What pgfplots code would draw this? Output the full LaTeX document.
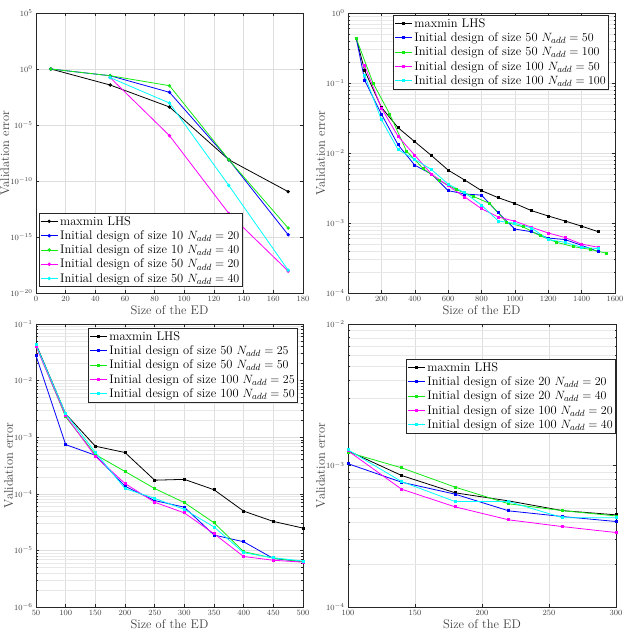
\documentclass[border=0pt]{standalone}
\usepackage{pgfplots}
\pgfplotsset{compat=1.18}
\definecolor{axgray}{RGB}{38,38,38}
\definecolor{gridgray}{RGB}{222,222,222}
\definecolor{mgreen}{RGB}{20,235,20}
\definecolor{mblue}{RGB}{0,0,255}
\definecolor{mmag}{RGB}{255,0,255}
\definecolor{mcyan}{RGB}{0,255,255}
\pgfplotsset{
 mat/.style={
  scale only axis, width=267pt, height=280pt,
  anchor=south west,
  axis line style={axgray, line width=0.5pt},
  tick style={axgray, line width=0.5pt},
  major tick length=3pt, minor tick length=1.5pt,
  tick label style={font=\fontsize{8}{9}\selectfont, text=black!75},
  xticklabel style={/pgf/number format/1000 sep={}},
  label style={font=\fontsize{12.5}{14}\selectfont, text=black!75},
  xmajorgrids, ymajorgrids,
  major grid style={gridgray, line width=0.4pt},
  minor grid style={gridgray!70, line width=0.3pt},
  legend style={font=\fontsize{12.5}{14}\selectfont, draw=axgray, line width=0.6pt, inner sep=1pt, row sep=0pt},
  legend cell align=left,
  every axis plot/.append style={line width=0.8pt, mark size=1.3pt},
  xlabel={Size of the ED}, ylabel={Validation error},
  xlabel style={yshift=3pt}, ylabel style={yshift=-6pt}
 }
}
\begin{document}
\begin{tikzpicture}
\path[use as bounding box] (0pt,0pt) rectangle (624pt,638pt);
% Panel 1
\begin{axis}[ymode=log, mat, at={(36pt,345pt)},
  xmin=0, xmax=180, xtick={0,20,...,180},
  ymin=1e-20, ymax=1e5, ytick={1e-20,1e-15,1e-10,1e-5,1,1e5}, yminorticks=false,
  legend style={at={(rel axis cs:0,0)}, anchor=south west, xshift=3pt, yshift=6pt}]
\addplot[black, mark=*] coordinates {(10,1) (50,0.0372) (90,4.07e-4) (130,7.94e-9) (170,1.12e-11)};
\addplot[mblue, mark=*] coordinates {(10,1) (50,0.251) (90,8.3e-3) (130,7.94e-9) (170,1.58e-15)};
\addplot[mgreen, mark=*] coordinates {(10,1) (50,0.251) (90,0.0324) (130,7.94e-9) (170,6.3e-15)};
\addplot[mmag, mark=*] coordinates {(50,0.17) (90,1.12e-6) (130,1.26e-13) (170,9.1e-19)};
\addplot[mcyan, mark=*] coordinates {(50,0.17) (90,9.1e-4) (130,3.98e-11) (170,1.1e-18)};
\legend{maxmin LHS, Initial design of size 10 $N_{add}=20$, Initial design of size 10 $N_{add}=40$, Initial design of size 50 $N_{add}=20$, Initial design of size 50 $N_{add}=40$}
\end{axis}
% Panel 2
\begin{axis}[ymode=log, mat, at={(348pt,345pt)},
  xmin=0, xmax=1600, xtick={0,200,...,1600},
  ymin=1e-4, ymax=1, yminorgrids,
  legend style={at={(rel axis cs:1,1)}, anchor=north east, xshift=-6pt, yshift=-2pt}]
\addplot[black, mark=square*, mark size=1pt] coordinates {(50,0.43)(100,0.15)(200,0.045)(300,0.023)(400,0.0145)(500,0.0092)(600,0.0057)(700,0.0041)(800,0.0029)(900,0.0023)(1000,0.0019)(1100,0.0015)(1200,0.00126)(1300,0.00107)(1400,0.0009)(1500,0.00075)};
\addplot[mblue, mark=square*, mark size=1pt] coordinates {(50,0.43)(100,0.109)(200,0.036)(300,0.0131)(400,0.0067)(500,0.005)(600,0.0029)(700,0.0026)(800,0.0025)(900,0.0014)(1000,0.00082)(1100,0.00075)(1200,0.00061)(1300,0.00058)(1400,0.00048)(1500,0.00039)};
\addplot[mgreen, mark=square*, mark size=1pt] coordinates {(50,0.43)(150,0.1)(250,0.036)(350,0.0107)(450,0.006)(550,0.004)(650,0.003)(750,0.0024)(850,0.0019)(950,0.00102)(1050,0.00088)(1150,0.00066)(1250,0.00053)(1350,0.00046)(1450,0.00042)(1550,0.00037)};
\addplot[mmag, mark=square*, mark size=1pt] coordinates {(100,0.177)(200,0.044)(300,0.0173)(400,0.0093)(500,0.005)(600,0.0034)(700,0.00235)(800,0.0016)(900,0.00122)(1000,0.00106)(1100,0.00087)(1200,0.00072)(1300,0.00062)(1400,0.0005)(1500,0.00045)};
\addplot[mcyan, mark=square*, mark size=1pt] coordinates {(100,0.128)(200,0.03)(300,0.0112)(400,0.0081)(500,0.0058)(600,0.0036)(700,0.0027)(800,0.0018)(900,0.00107)(1000,0.00099)(1100,0.00085)(1200,0.00058)(1300,0.00053)(1400,0.00045)(1500,0.00043)};
\legend{maxmin LHS, Initial design of size 50 $N_{add}=50$, Initial design of size 50 $N_{add}=100$, Initial design of size 100 $N_{add}=50$, Initial design of size 100 $N_{add}=100$}
\end{axis}
% Panel 3
\begin{axis}[ymode=log, mat, at={(36pt,31pt)}, height=283pt,
  xmin=50, xmax=500, xtick={50,100,...,500},
  ymin=1e-6, ymax=1e-1, yminorgrids,
  legend style={at={(rel axis cs:1,1)}, anchor=north east, xshift=-5pt, yshift=-4pt}]
\addplot[black, mark=square*, mark size=1pt] coordinates {(50,0.0444)(100,0.00258)(150,0.000694)(200,0.000536)(250,0.000174)(300,0.00018)(350,0.000118)(400,4.94e-5)(450,3.25e-5)(500,2.48e-5)};
\addplot[mblue, mark=square*, mark size=1pt] coordinates {(50,0.0276)(100,0.00074)(150,0.00048)(200,0.000136)(250,7.6e-5)(300,5.8e-5)(350,1.87e-5)(400,1.42e-5)(450,7.2e-6)(500,6.3e-6)};
\addplot[mgreen, mark=square*, mark size=1pt] coordinates {(50,0.042)(100,0.00229)(150,0.000494)(200,0.000248)(250,0.000124)(300,7.0e-5)(350,3.08e-5)(400,9.5e-6)(450,7.3e-6)(500,6.3e-6)};
\addplot[mmag, mark=square*, mark size=1pt] coordinates {(50,0.0404)(100,0.0024)(150,0.00046)(200,0.000152)(250,7.1e-5)(300,4.6e-5)(350,1.97e-5)(400,7.8e-6)(450,6.7e-6)(500,6.2e-6)};
\addplot[mcyan, mark=square*, mark size=1pt] coordinates {(50,0.043)(100,0.0026)(150,0.00054)(200,0.000124)(250,8.3e-5)(300,5.3e-5)(350,2.6e-5)(400,9.1e-6)(450,7.4e-6)(500,6.5e-6)};
\legend{maxmin LHS, Initial design of size 50 $N_{add}=25$, Initial design of size 50 $N_{add}=50$, Initial design of size 100 $N_{add}=25$, Initial design of size 100 $N_{add}=50$}
\end{axis}
% Panel 4
\begin{axis}[ymode=log, mat, at={(348pt,31pt)}, width=268pt, height=283pt,
  xmin=100, xmax=300, xtick={100,150,...,300},
  ymin=1e-4, ymax=1e-2, yminorgrids,
  legend style={at={(rel axis cs:1,1)}, anchor=north east, xshift=0pt, yshift=-35pt}]
\addplot[black, mark=square*, mark size=1pt] coordinates {(100,1.27e-3)(140,0.85e-3)(180,0.641e-3)(220,0.562e-3)(260,0.48e-3)(300,0.448e-3)};
\addplot[mblue, mark=square*, mark size=1pt] coordinates {(100,1.03e-3)(140,0.762e-3)(180,0.627e-3)(220,0.478e-3)(260,0.436e-3)(300,0.402e-3)};
\addplot[mgreen, mark=square*, mark size=1pt] coordinates {(100,1.24e-3)(140,0.963e-3)(180,0.703e-3)(220,0.536e-3)(260,0.48e-3)(300,0.44e-3)};
\addplot[mmag, mark=square*, mark size=1pt] coordinates {(100,1.27e-3)(140,0.68e-3)(180,0.51e-3)(220,0.413e-3)(260,0.37e-3)(300,0.336e-3)};
\addplot[mcyan, mark=square*, mark size=1pt] coordinates {(100,1.29e-3)(140,0.77e-3)(180,0.556e-3)(220,0.556e-3)(260,0.428e-3)(300,0.428e-3)};
\legend{maxmin LHS, Initial design of size 20 $N_{add}=20$, Initial design of size 20 $N_{add}=40$, Initial design of size 100 $N_{add}=20$, Initial design of size 100 $N_{add}=40$}
\end{axis}
\end{tikzpicture}
\end{document}
